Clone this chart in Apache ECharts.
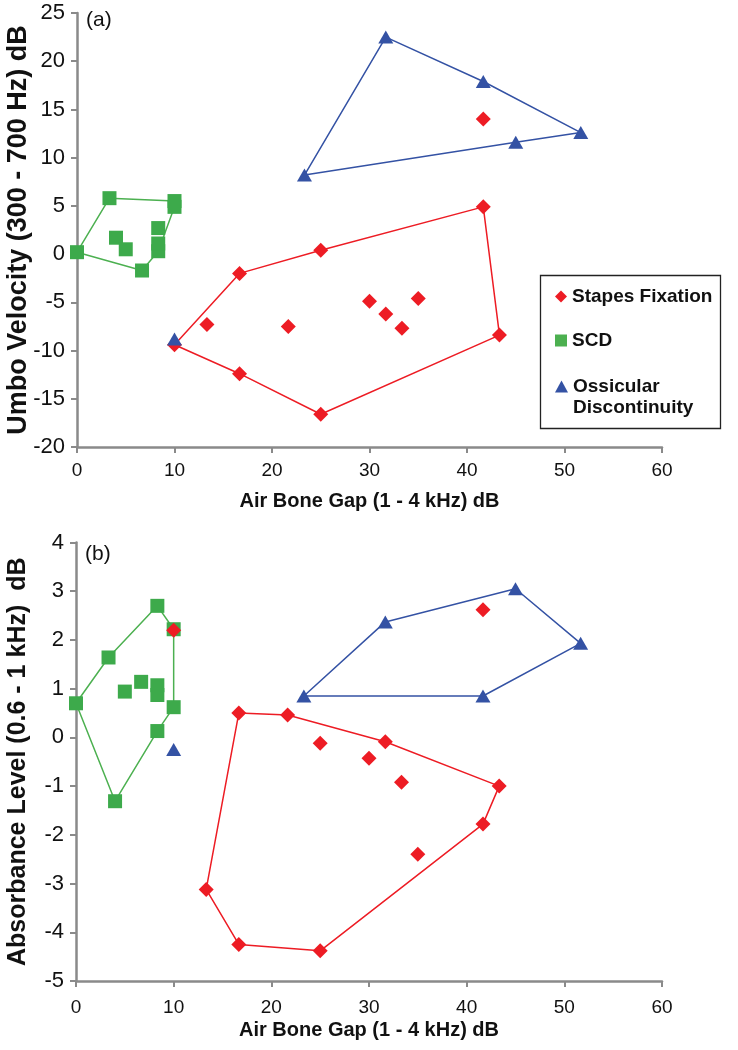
<!DOCTYPE html>
<html>
<head>
<meta charset="utf-8">
<script src="https://cdn.jsdelivr.net/npm/echarts@6/dist/echarts.min.js"></script>
<style>
html,body{margin:0;padding:0;background:#fff;}
#chart{width:738px;height:1050px;}
</style>
</head>
<body>
<div id="chart"></div>
<script>
// ---------- DATA ----------
const seriesNames = ['Stapes Fixation', 'SCD', 'Ossicular Discontinuity'];
const xTicksMinMax = [0, 60, 10];
const yTicksA = [-20, 25, 5];
const yTicksB = [-5, 4, 1];

// Panel (a): Umbo velocity vs air-bone gap
const stapesA = [[41.67,4.9],[25,0.4],[16.67,-2.0],[10,-9.4],[16.67,-12.4],[25,-16.6],[43.33,-8.4],
                 [13.33,-7.3],[21.67,-7.5],[30,-4.9],[31.67,-6.2],[33.33,-7.7],[35,-4.6],[41.67,14.0]];
const stapesHullA = [0,1,2,3,4,5,6,0];
const scdA = [[0,0.2],[3.33,5.8],[10,5.5],[10,4.9],[8.33,0.3],[6.67,-1.7],
              [4,1.7],[5,0.5],[8.33,2.7],[8.33,1.1]];
const scdHullA = [0,1,2,3,4,5,0];
const ossA = [[31.67,22.5],[41.67,17.9],[51.67,12.6],[45,11.6],[23.33,8.2],[10,-8.8]];
const ossHullA = [0,1,2,3,4,0];

// Panel (b): Absorbance level vs air-bone gap
const stapesB = [[16.67,0.5],[21.67,0.46],[31.67,-0.09],[43.33,-1.0],[41.67,-1.78],[25,-4.38],[16.67,-4.25],[13.33,-3.12],
                 [25,-0.12],[30,-0.43],[33.33,-0.92],[35,-2.4],[41.67,2.62],[10,2.2]];
const stapesHullB = [0,1,2,3,4,5,6,7,0];
const scdB = [[0,0.7],[3.33,1.64],[8.33,2.7],[10,2.22],[10,0.62],[8.33,0.13],[4,-1.31],
              [5,0.94],[6.67,1.14],[8.33,1.07],[8.33,0.87]];
const scdHullB = [0,1,2,3,4,5,6,0];
const ossB = [[23.33,0.85],[31.67,2.37],[45,3.05],[51.67,1.93],[41.67,0.85],[10,-0.25]];
const ossHullB = [0,1,2,3,4,0];

// ---------- STYLE ----------
const RED = '#ED1C24', GREEN = '#3DAA4B', GREEN_L = '#4CB050', BLUE = '#3452A4';
const AXIS = '#8A8A8A';
const FONT = "'Liberation Sans', Arial, sans-serif";

function hull(points, idx){ return idx.map(i => points[i]); }

function xAxisCfg(gridIndex, gap, margin){
  return {
    type:'value', gridIndex, min:xTicksMinMax[0], max:xTicksMinMax[1], interval:xTicksMinMax[2],
    name:'Air Bone Gap (1 - 4 kHz) dB', nameLocation:'middle', nameGap:gap, nameMoveOverlap:false,
    nameTextStyle:{fontFamily:FONT, fontWeight:'bold', fontSize:20, color:'#111'},
    axisLine:{show:true, onZero:false, lineStyle:{color:AXIS, width:2.5}},
    axisTick:{show:true, inside:false, length:6, lineStyle:{color:AXIS, width:2}},
    axisLabel:{fontFamily:FONT, fontSize:19, color:'#111', margin},
    splitLine:{show:false}
  };
}
function yAxisCfg(gridIndex, ticks, name, gap, nameSize){
  return {
    type:'value', gridIndex, min:ticks[0], max:ticks[1], interval:ticks[2],
    name, nameLocation:'middle', nameGap:gap, nameRotate:90, nameMoveOverlap:false,
    nameTextStyle:{fontFamily:FONT, fontWeight:'bold', fontSize:nameSize, color:'#111'},
    axisLine:{show:true, onZero:false, lineStyle:{color:AXIS, width:2.5}},
    axisTick:{show:true, inside:false, length:6, lineStyle:{color:AXIS, width:2}},
    axisLabel:{fontFamily:FONT, fontSize:22, color:'#111', margin:12},
    splitLine:{show:false}
  };
}
function lineSeries(name, data, color, gi){
  return {type:'line', name, xAxisIndex:gi, yAxisIndex:gi, data, symbol:'none',
          lineStyle:{color, width:1.5}, itemStyle:{color}, z:2, silent:true, animation:false};
}
function scatterSeries(name, data, color, symbol, size, gi, z){
  return {type:'scatter', name, xAxisIndex:gi, yAxisIndex:gi, data, symbol, symbolSize:size,
          itemStyle:{color, opacity:1}, z, animation:false};
}

const series = [];
[[0, scdA, scdHullA, stapesA, stapesHullA, ossA, ossHullA],
 [1, scdB, scdHullB, stapesB, stapesHullB, ossB, ossHullB]].forEach(p => {
  const gi = p[0];
  series.push(lineSeries(seriesNames[1], hull(p[1], p[2]), GREEN_L, gi));
  series.push(lineSeries(seriesNames[0], hull(p[3], p[4]), RED, gi));
  series.push(lineSeries(seriesNames[2], hull(p[5], p[6]), BLUE, gi));
  series.push(scatterSeries(seriesNames[1], p[1], GREEN, 'rect', 14, gi, 3));
  series.push(scatterSeries(seriesNames[0], p[3], RED, 'diamond', 15, gi, 4));
  series.push(scatterSeries(seriesNames[2], p[5], BLUE, 'triangle', [15,13], gi, 5));
});

const legendText = {fontFamily:FONT, fontWeight:'bold', fontSize:19, color:'#111', lineHeight:21};

const option = {
  backgroundColor:'#fff',
  animation:false,
  title:[
    {text:'(a)', left:86, top:10, padding:0, textStyle:{fontFamily:FONT, fontWeight:'normal', fontSize:21, color:'#111'}},
    {text:'(b)', left:85, top:544, padding:0, textStyle:{fontFamily:FONT, fontWeight:'normal', fontSize:21, color:'#111'}}
  ],
  grid:[
    {left:77, top:13, width:585, height:434, containLabel:false, outerBoundsMode:'none'},
    {left:76, top:542.5, width:586, height:438.5, containLabel:false, outerBoundsMode:'none'}
  ],
  xAxis:[xAxisCfg(0, 44, 14), xAxisCfg(1, 39, 17)],
  yAxis:[
    yAxisCfg(0, yTicksA, 'Umbo Velocity (300 - 700 Hz) dB', 45, 27),
    yAxisCfg(1, yTicksB, 'Absorbance Level (0.6 - 1 kHz)  dB', 45, 25)
  ],
  legend:[
    {orient:'vertical', left:555, top:286, padding:0, itemGap:23, itemWidth:12, itemHeight:12,
     data:[{name:seriesNames[0], icon:'diamond'},{name:seriesNames[1], icon:'rect'}],
     textStyle:legendText, selectedMode:false},
    {orient:'vertical', left:555, top:355, padding:0, itemWidth:13, itemHeight:12,
     data:[{name:seriesNames[2], icon:'triangle'}],
     formatter: n => '\n' + n.replace(' ', '\n'),
     textStyle:legendText, selectedMode:false}
  ],
  graphic:[
    {type:'rect', left:538, top:273, shape:{width:180, height:153}, style:{fill:'none', stroke:'#222', lineWidth:1.3}, z:-1}
  ],
  series
};

const chart = echarts.init(document.getElementById('chart'), null, {renderer:'canvas'});
chart.setOption(option);
</script>
</body>
</html>
